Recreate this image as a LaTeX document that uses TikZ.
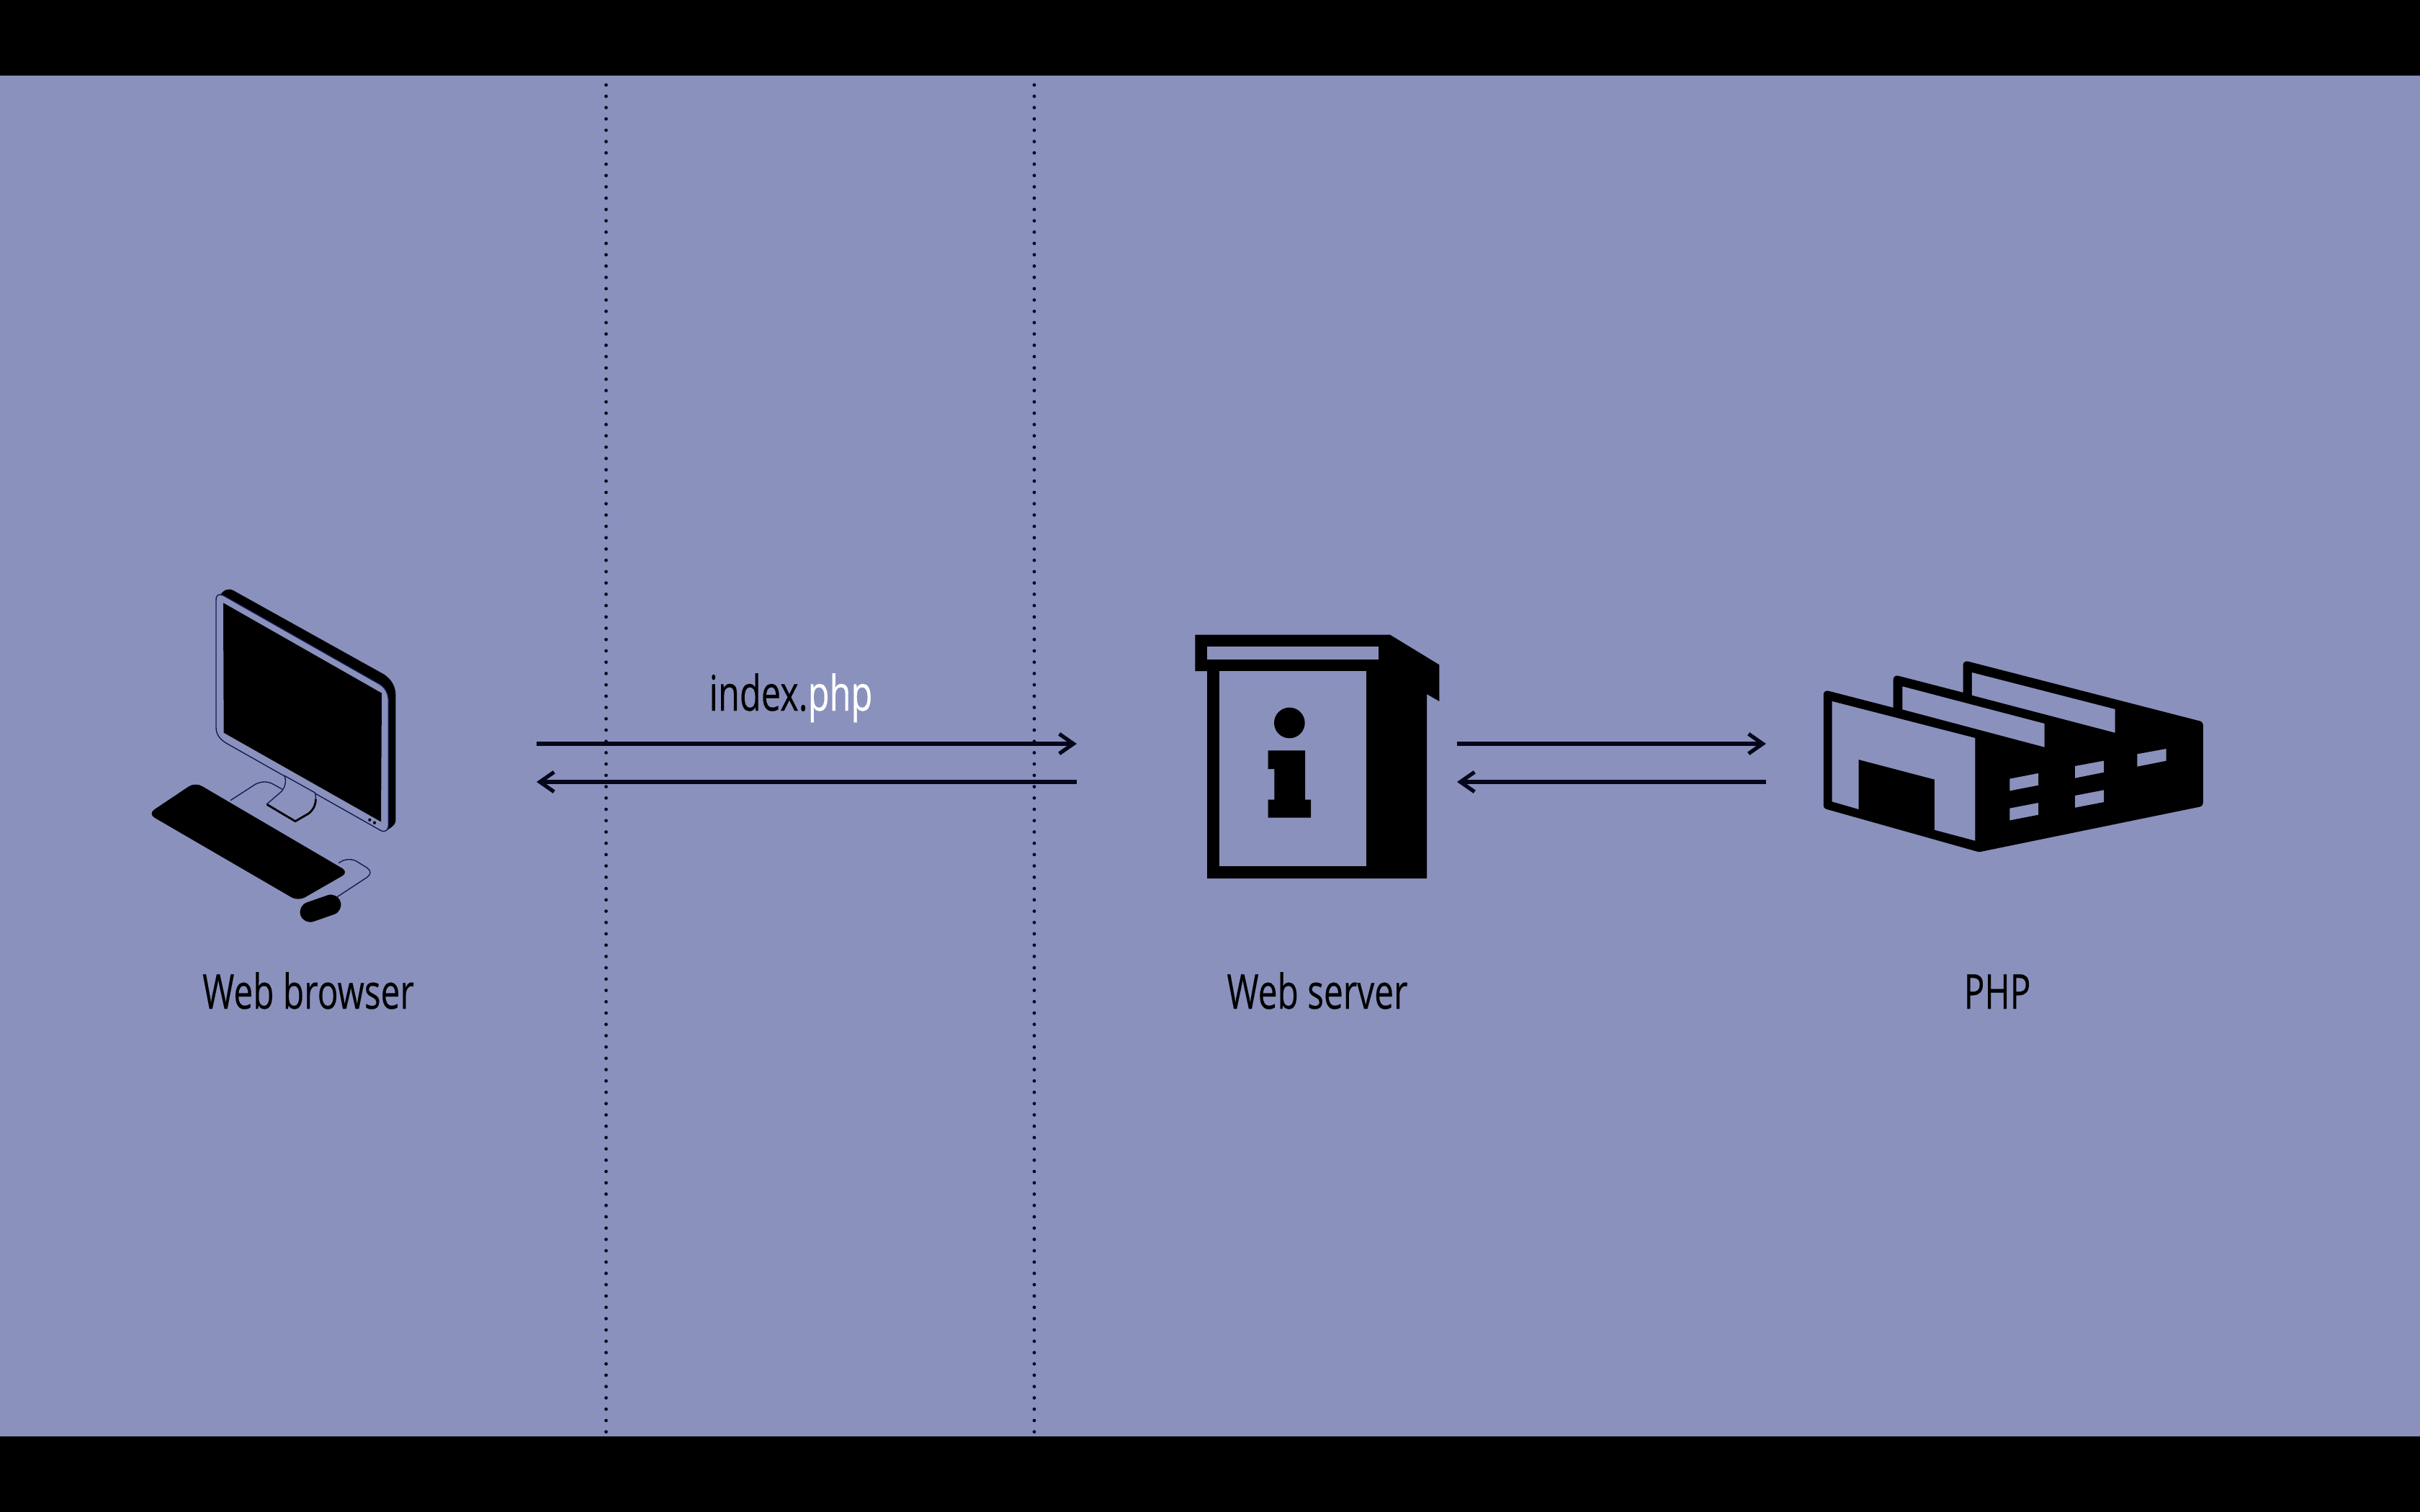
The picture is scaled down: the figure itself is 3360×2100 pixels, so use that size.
\documentclass[tikz,border=0pt]{standalone}
\usepackage{fontspec}
\setmainfont[FakeStretch=0.715,FakeBold=0.2]{Open Sans}
\usetikzlibrary{arrows.meta}
\definecolor{bg}{HTML}{8A91BD}
\definecolor{ink}{HTML}{05061A}
\definecolor{navy}{HTML}{141C50}
\tikzset{
  x=0.01cm,y=-0.01cm,
  thin outline/.style={draw=navy,line width=0.4pt,line join=round},
  flow/.style={draw=ink,line width=1.5pt,-{Straight Barb[length=5.6pt,width=7.8pt,line width=1.5pt]}},
  boundary/.style={draw=ink,line width=1.35pt,line cap=round,dash pattern=on 0pt off 4.47pt},
  lbl/.style={font=\fontsize{19}{23}\selectfont,text=black,inner sep=0pt,anchor=base},
}
\begin{document}
\begin{tikzpicture}
\useasboundingbox (0,0) rectangle (3360,2100);
\fill[bg] (0,0) rectangle (3360,2100);
% boundaries
\coordinate (b1t) at (841.5,118); \coordinate (b1b) at (841.5,2010);
\coordinate (b2t) at (1436,118);  \coordinate (b2b) at (1436,2010);
\draw[boundary] (b1t) -- (b1b);
\draw[boundary] (b2t) -- (b2b);
\fill[black] (0,0) rectangle (3360,105);
\fill[black] (0,1995) rectangle (3360,2100);
% arrows
\coordinate (browserOut) at (745,1033); \coordinate (serverIn) at (1495,1033);
\coordinate (serverOut) at (1495,1086); \coordinate (browserIn) at (745,1086);
\coordinate (serverOut2) at (2023,1033); \coordinate (phpIn) at (2452,1033);
\coordinate (phpOut) at (2452,1086); \coordinate (serverIn2) at (2023,1086);
\draw[flow] (browserOut) -- (serverIn);
\draw[flow] (serverOut) -- (browserIn);
\draw[flow] (serverOut2) -- (phpIn);
\draw[flow] (phpOut) -- (serverIn2);
% monitor
\begin{scope}[shift={(180,790)},scale=1/3]
  \fill[black] (378,108) .. controls (395,84) and (415,80) .. (435,92) -- (1060,440) .. controls (1090,460) and (1108,490) .. (1108,525) -- (1108,1050) .. controls (1108,1065) and (1090,1080) .. (1060,1095) -- (1000,1000) -- (500,300) -- cycle;
  \path[fill=bg,thin outline] (360,130) .. controls (360,108) and (372,102) .. (392,112) -- (1040,480) .. controls (1065,495) and (1078,520) .. (1078,550) -- (1078,1065) .. controls (1078,1090) and (1065,1100) .. (1045,1090) -- (405,728) .. controls (375,710) and (360,690) .. (360,660) -- cycle;
  \fill[black] (390,142) -- (1050,518) -- (1047,1054) -- (392,683) -- cycle;
  \path[fill=black,draw=bg,line width=0.2pt] (1000,1046) circle (8);
  \path[fill=black,draw=bg,line width=0.2pt] (1020,1058) circle (8);
  % stand
  \path[fill=bg,thin outline] (645,862) .. controls (655,890) and (645,915) .. (630,930) -- (572,980) -- (690,1052) -- (745,1020) .. controls (775,1000) and (780,965) .. (772,933) -- cycle;
  \draw[black,line width=0.8pt,line join=round] (572,982) -- (690,1052) -- (745,1020) .. controls (765,1005) and (775,985) .. (775,960);
  \draw[thin outline,fill=none] (420,965) -- (525,897) .. controls (550,885) and (575,885) .. (597,897) -- (635,918);
  % keyboard and mouse
  \fill[black,rounded corners=3pt] (76,1021) -- (273,889) -- (913,1264) -- (702,1385) -- cycle;
  \draw[thin outline,fill=none,rounded corners=3.5pt] (870,1226) -- (915,1200) -- (1020,1265) -- (860,1370);
  \draw[black,line width=8pt,line cap=round] (752,1430) -- (838,1400);
\end{scope}
% server
\begin{scope}[shift={(1630,850)},scale=1/3]
  \fill[black] (88,95) -- (900,95) -- (1105,220) -- (1105,372) -- (1053,342) -- (1053,1110) -- (138,1110) -- (138,246) -- (88,246) -- cycle;
  \fill[bg] (138,145) rectangle (852,197);
  \fill[bg] (188,246) rectangle (800,1060);
  \fill[black] (481,462) circle (64);
  \fill[black] (392,577) -- (546,577) -- (546,782) -- (570,782) -- (570,857) -- (392,857) -- (392,782) -- (418,782) -- (418,654) -- (392,654) -- cycle;
\end{scope}
% factory
\begin{scope}[shift={(2500,900)},xscale=1/2.703,yscale=1/3]
  \path[fill=black,draw=black,line width=3pt,line join=round] (100,194) -- (362,269) -- (362,131) -- (624,206) -- (624,71) -- (1496,320) -- (1496,646) -- (670,834) -- (100,656) -- cycle;
  \fill[bg] (118,222) -- (655,375) -- (655,803) -- (503,758) -- (503,548) -- (218,465) -- (218,672) -- (118,640) -- cycle;
  \fill[bg] (382,160) -- (915,315) -- (915,413) -- (382,256) -- cycle;
  \fill[bg] (643,102) -- (1180,255) -- (1180,353) -- (643,197) -- cycle;
  \fill[bg] (785,545) -- (892,522) -- (892,572) -- (785,595) -- cycle;
  \fill[bg] (785,668) -- (892,645) -- (892,695) -- (785,718) -- cycle;
  \fill[bg] (1030,492) -- (1138,470) -- (1138,518) -- (1030,542) -- cycle;
  \fill[bg] (1030,615) -- (1138,592) -- (1138,642) -- (1030,665) -- cycle;
  \fill[bg] (1263,442) -- (1372,420) -- (1372,470) -- (1263,494) -- cycle;
\end{scope}
% labels
\node[lbl] (lBrowser) at (428,1401) {Web browser};
\node[lbl] (lServer) at (1829,1401) {Web server};
\node[lbl] (lPHP) at (2773,1401) {PHP};
\node[lbl,font=\fontsize{19.4}{23}\selectfont] (lFile) at (1098,987) {index.{\color{white}php}};
\end{tikzpicture}
\end{document}
